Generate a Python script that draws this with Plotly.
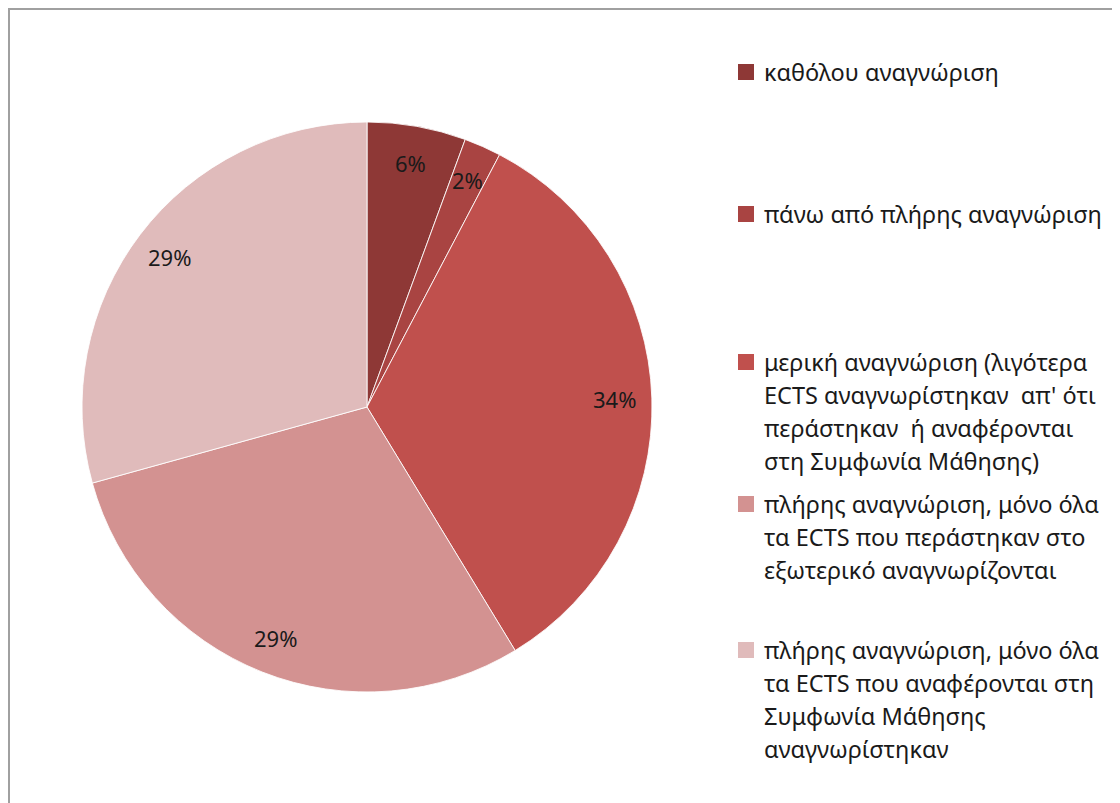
import math
import plotly.graph_objects as go

# ---- data ----
categories = [
    ["καθόλου αναγνώριση"],
    ["πάνω από πλήρης αναγνώριση"],
    ["μερική αναγνώριση (λιγότερα",
     "ECTS αναγνωρίστηκαν  απ' ότι",
     "περάστηκαν  ή αναφέρονται",
     "στη Συμφωνία Μάθησης)"],
    ["πλήρης αναγνώριση, μόνο όλα",
     "τα ECTS που περάστηκαν στο",
     "εξωτερικό αναγνωρίζονται"],
    ["πλήρης αναγνώριση, μόνο όλα",
     "τα ECTS που αναφέρονται στη",
     "Συμφωνία Μάθησης",
     "αναγνωρίστηκαν"],
]
values = [5.6, 2.1, 33.6, 29.4, 29.3]
colors = ["#8E3836", "#A94442", "#C0504D", "#D39291", "#E0BBBB"]

# ---- layout constants (page pixels; page has an 8px body margin) ----
W, H = 1120, 803
OFF = 8
CX, CY, R = 367, 407, 285
FONT = "Noto Sans, DejaVu Sans, sans-serif"
LEG_CENTERS = [72, 214, 362, 504, 650]
LINE_H = 33
SQ = 16
SQ_X = 738
TXT_X = 762


def px(x):
    return (x - OFF) / W


def py(y):
    return 1 - (y - OFF) / H


labels = [" ".join(c) for c in categories]

fig = go.Figure(go.Pie(
    labels=labels,
    values=values,
    sort=False,
    direction="clockwise",
    rotation=0,
    marker=dict(colors=colors, line=dict(color="rgba(255,255,255,0.85)", width=1)),
    textinfo="none",
    hoverinfo="label+percent",
    showlegend=False,
    domain=dict(x=[px(CX - R), px(CX + R)], y=[py(CY + R), py(CY - R)]),
))

# percentage labels positioned from the data
total = sum(values)
cum = 0.0
for v in values:
    mid = (cum + v / 2) / total * 2 * math.pi
    cum += v
    lx = CX + 0.87 * R * math.sin(mid)
    ly = CY - 0.87 * R * math.cos(mid)
    fig.add_annotation(x=px(lx), y=py(ly), xref="paper", yref="paper",
                       text=f"{round(v / total * 100)}%", showarrow=False,
                       xanchor="center", yanchor="middle",
                       font=dict(size=22, color="#1a1a1a", family=FONT))

# legend
for lines, col, yc in zip(categories, colors, LEG_CENTERS):
    fig.add_shape(type="rect", xref="paper", yref="paper",
                  x0=px(SQ_X), x1=px(SQ_X + SQ),
                  y0=py(yc + SQ / 2), y1=py(yc - SQ / 2),
                  line=dict(width=0), fillcolor=col)
    for i, t in enumerate(lines):
        fig.add_annotation(x=px(TXT_X), y=py(yc + i * LINE_H),
                           xref="paper", yref="paper", text=t,
                           showarrow=False, xanchor="left", yanchor="middle",
                           font=dict(size=23.5, color="#1a1a1a", family=FONT))

# chart-area border
fig.add_shape(type="rect", xref="paper", yref="paper",
              x0=1 / W, x1=1.2, y0=-0.2, y1=1 - 1 / H,
              line=dict(color="#A0A0A0", width=2), fillcolor="rgba(0,0,0,0)")

fig.update_layout(
    width=W, height=H,
    margin=dict(l=0, r=0, t=0, b=0),
    paper_bgcolor="white",
    showlegend=False,
)

fig.write_html("out.html")
